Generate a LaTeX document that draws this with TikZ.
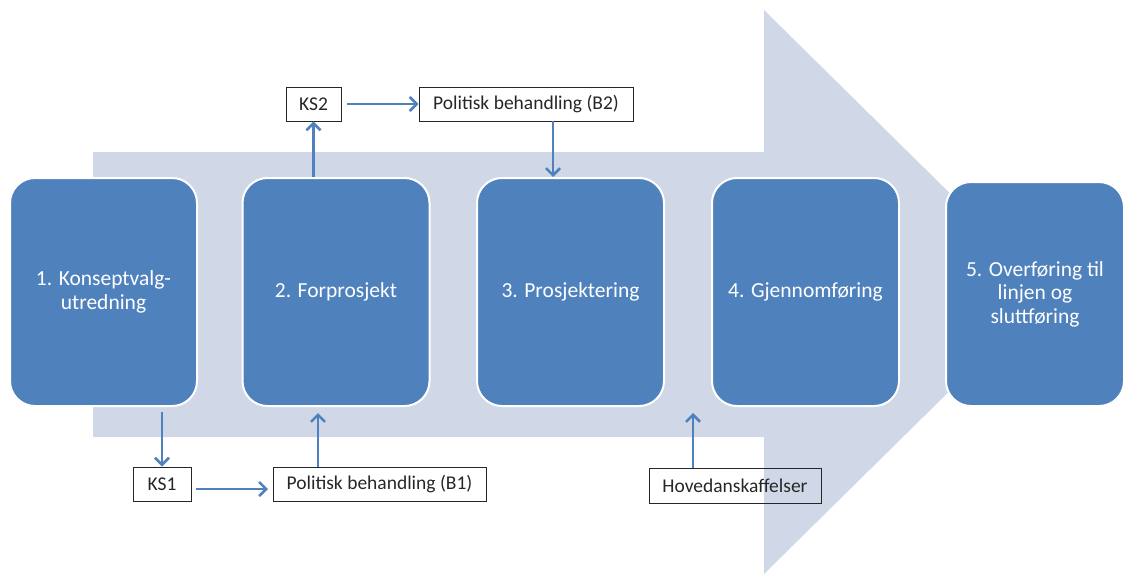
\documentclass[tikz,border=0pt]{standalone}
\usepackage{fontspec}
\setmainfont{Carlito}
\usetikzlibrary{arrows.meta}
\definecolor{phaseblue}{HTML}{4F81BD}
\definecolor{arrowbg}{HTML}{D0D8E8}
\definecolor{conn}{HTML}{4F81BD}
\tikzset{
  phase/.style={rectangle, rounded corners=25pt, fill=phaseblue, draw=white, line width=2pt,
    minimum width=187pt, minimum height=228pt, text=white, align=center,
    font=\fontsize{21.5}{23.5}\selectfont, inner sep=4pt},
  label/.style={rectangle, draw=black!85, line width=0.9pt, minimum height=34pt,
    font=\fontsize{19.5}{22}\selectfont, text=black!85, inner sep=3pt},
  conn/.style={draw=conn, line width=2.6pt, -{Straight Barb[length=7pt,width=14pt,line width=2.6pt]}}
}
\begin{document}
\begin{tikzpicture}[x=1pt,y=-1pt]
\useasboundingbox (0,0) rectangle (1126,574);
\fill[arrowbg] (93,152) -- (764,152) -- (764,10) -- (1050,292) -- (764,574) -- (764,437) -- (93,437) -- cycle;

\node[phase] (p1) at (103.5,292) {1. Konseptvalg-\\utredning};
\node[phase] (p2) at (336,292) {2. Forprosjekt};
\node[phase] (p3) at (570.5,292) {3. Prosjektering};
\node[phase] (p4) at (805.5,292) {4. Gjennomføring};
\node[phase, minimum width=178pt, minimum height=224pt] (p5) at (1035,294) {5. Overføring til\\linjen og\\sluttføring};

\node[label, minimum width=58pt] (ks1) at (162,484) {KS1};
\node[label, minimum width=213pt] (b1) at (379.5,484) {Politisk behandling (B1)};
\node[label, minimum width=55pt] (ks2) at (313.5,104) {KS2};
\node[label, minimum width=214pt] (b2) at (526,104) {Politisk behandling (B2)};
\node[label, minimum width=172pt, minimum height=35pt] (hov) at (735,485.5) {Hovedanskaffelser};

\coordinate (s1) at (162,412);
\coordinate (t2) at (318,413);
\coordinate (t3) at (553,177);
\coordinate (t4) at (693,413);
\coordinate (e1) at (268,489);
\coordinate (f1) at (196,489);

\draw[conn] (s1) -- (ks1.north);
\draw[conn] (f1) -- (e1);
\draw[conn] (b1.north -| t2) -- (t2);
\draw[conn] (p2.north -| ks2.south) -- (ks2.south);
\draw[conn] ([xshift=6pt]ks2.east) -- (b2.west);
\draw[conn] (b2.south -| t3) -- (t3);
\draw[conn] (hov.north -| t4) -- (t4);
\end{tikzpicture}
\end{document}
